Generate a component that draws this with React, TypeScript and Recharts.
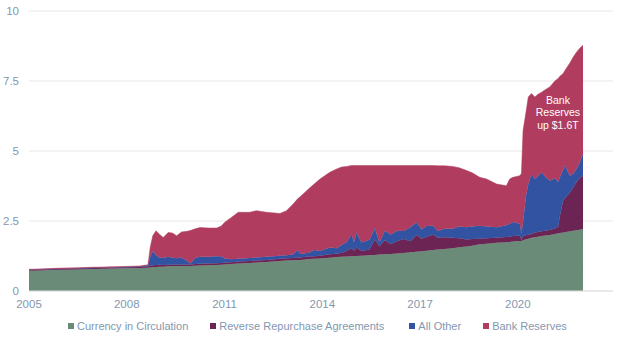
import React from "react";
import { AreaChart, Area, XAxis, YAxis, CartesianGrid, Legend, ReferenceDot } from "recharts";

// Decimal years of each observation
const years = [
  2005.0, 2005.5, 2006.0, 2006.5, 2007.0, 2007.5, 2008.0, 2008.4, 2008.65, 2008.72,
  2008.8, 2008.9, 2009.0, 2009.12, 2009.27, 2009.4, 2009.53, 2009.68, 2009.85, 2009.95,
  2010.1, 2010.25, 2010.5, 2010.76, 2010.9, 2011.0, 2011.2, 2011.42, 2011.78, 2011.98,
  2012.29, 2012.7, 2012.9, 2013.1, 2013.25, 2013.32, 2013.42, 2013.6, 2013.75, 2013.93,
  2014.23, 2014.44, 2014.6, 2014.75, 2014.9, 2014.97, 2015.05, 2015.2, 2015.45, 2015.61,
  2015.75, 2015.92, 2016.1, 2016.3, 2016.5, 2016.7, 2016.89, 2017.05, 2017.2, 2017.4,
  2017.55, 2017.75, 2018.0, 2018.2, 2018.43, 2018.6, 2018.83, 2019.04, 2019.35, 2019.65,
  2019.75, 2019.85, 2020.06, 2020.11, 2020.16, 2020.25, 2020.32, 2020.42, 2020.52, 2020.62,
  2020.73, 2020.85, 2020.98, 2021.15, 2021.23, 2021.29, 2021.39, 2021.44, 2021.6, 2021.7,
  2021.8, 2021.9, 2022.0,
];

// $ trillions
const currency = [
  0.72, 0.74, 0.76, 0.77, 0.79, 0.80, 0.81, 0.82, 0.83, 0.84,
  0.85, 0.86, 0.87, 0.87, 0.88, 0.88, 0.88, 0.89, 0.89, 0.89,
  0.90, 0.91, 0.92, 0.93, 0.94, 0.95, 0.96, 0.98, 1.00, 1.02,
  1.04, 1.07, 1.09, 1.10, 1.11, 1.11, 1.12, 1.14, 1.15, 1.16,
  1.19, 1.21, 1.22, 1.23, 1.24, 1.25, 1.25, 1.26, 1.28, 1.29,
  1.30, 1.31, 1.32, 1.34, 1.36, 1.38, 1.40, 1.42, 1.44, 1.46,
  1.48, 1.50, 1.53, 1.56, 1.59, 1.62, 1.67, 1.69, 1.72, 1.74,
  1.75, 1.77, 1.79, 1.79, 1.81, 1.85, 1.87, 1.90, 1.92, 1.94,
  1.96, 1.98, 2.00, 2.04, 2.06, 2.07, 2.09, 2.10, 2.13, 2.15,
  2.17, 2.19, 2.21,
];

const reverseRepo = [
  0.025, 0.026, 0.028, 0.03, 0.03, 0.032, 0.035, 0.04, 0.045, 0.07,
  0.07, 0.07, 0.07, 0.06, 0.06, 0.06, 0.06, 0.06, 0.06, 0.06,
  0.06, 0.06, 0.06, 0.06, 0.06, 0.06, 0.07, 0.07, 0.07, 0.07,
  0.07, 0.08, 0.08, 0.08, 0.09, 0.09, 0.09, 0.09, 0.09, 0.10,
  0.12, 0.12, 0.15, 0.20, 0.30, 0.18, 0.30, 0.17, 0.20, 0.55,
  0.30, 0.50, 0.35, 0.45, 0.50, 0.40, 0.60, 0.45, 0.50, 0.55,
  0.42, 0.42, 0.37, 0.32, 0.25, 0.24, 0.20, 0.19, 0.18, 0.19,
  0.19, 0.19, 0.18, 0.02, 0.15, 0.14, 0.14, 0.14, 0.17, 0.17,
  0.17, 0.17, 0.18, 0.20, 0.20, 0.60, 1.14, 1.20, 1.39, 1.55,
  1.71, 1.85, 1.91,
];

const allOther = [
  0.01, 0.01, 0.01, 0.01, 0.01, 0.01, 0.012, 0.015, 0.03, 0.30,
  0.51, 0.35, 0.26, 0.25, 0.28, 0.25, 0.23, 0.25, 0.12, 0.03,
  0.22, 0.25, 0.24, 0.25, 0.24, 0.15, 0.10, 0.10, 0.11, 0.11,
  0.11, 0.11, 0.11, 0.12, 0.27, 0.12, 0.13, 0.14, 0.22, 0.17,
  0.24, 0.20, 0.28, 0.32, 0.49, 0.30, 0.54, 0.30, 0.35, 0.41,
  0.13, 0.34, 0.35, 0.36, 0.28, 0.50, 0.45, 0.33, 0.38, 0.32,
  0.24, 0.30, 0.32, 0.42, 0.44, 0.44, 0.46, 0.42, 0.38, 0.42,
  0.46, 0.50, 0.43, 0.22, 0.50, 1.40, 1.80, 2.14, 1.91, 2.00,
  2.11, 1.92, 1.76, 1.80, 1.62, 1.39, 1.10, 1.18, 0.60, 0.50,
  0.48, 0.55, 0.78,
];

const bankReserves = [
  0.02, 0.02, 0.02, 0.02, 0.02, 0.02, 0.02, 0.02, 0.03, 0.35,
  0.55, 0.87, 0.83, 0.73, 0.87, 0.88, 0.80, 0.91, 1.06, 1.18,
  1.04, 1.05, 1.03, 1.01, 1.08, 1.29, 1.49, 1.66, 1.63, 1.67,
  1.59, 1.51, 1.59, 1.80, 1.83, 2.05, 2.13, 2.30, 2.36, 2.57,
  2.69, 2.83, 2.78, 2.70, 2.45, 2.75, 2.39, 2.75, 2.65, 2.23,
  2.75, 2.33, 2.46, 2.33, 2.34, 2.20, 2.03, 2.28, 2.16, 2.15,
  2.33, 2.25, 2.23, 2.10, 2.02, 1.92, 1.73, 1.70, 1.54, 1.41,
  1.60, 1.60, 1.72, 2.17, 3.27, 3.00, 3.12, 2.87, 2.93, 2.92,
  2.86, 3.13, 3.35, 3.48, 3.70, 3.61, 3.44, 3.39, 4.03, 4.16,
  4.17, 4.08, 3.88,
];

const xTicks = [2005, 2008, 2011, 2014, 2017, 2020];
const yTicks = [0, 2.5, 5, 7.5, 10];

const seriesNames = ["Currency in Circulation", "Reverse Repurchase Agreements", "All Other", "Bank Reserves"];
const seriesKeys = ["currency", "reverseRepo", "allOther", "bankReserves"];
const seriesColors = ["#6a8b78", "#6c2454", "#3253a2", "#b03d5f"];

const annotationLines = ["Bank", "Reserves", "up $1.6T"];
const annotationX = 2021.23;
const annotationY = 6.38;

const data = years.map((t, i) => ({
  t,
  currency: currency[i],
  reverseRepo: reverseRepo[i],
  allOther: allOther[i],
  bankReserves: bankReserves[i],
}));

const FONT = "'Liberation Sans', Arial, Helvetica, sans-serif";
const TEXT = "#8497b0";

const LegendContent = () => (
  <div style={{ display: "flex", justifyContent: "flex-start", paddingLeft: 68, fontFamily: FONT, fontSize: 11, color: TEXT }}>
    {seriesNames.map((n, i) => (
      <div key={n} style={{ display: "flex", alignItems: "center", marginRight: i === 1 ? 25 : 22 }}>
        <span style={{ display: "inline-block", width: 6, height: 6, background: seriesColors[i], marginRight: 3 }} />
        <span>{n}</span>
      </div>
    ))}
  </div>
);

const Annotation = (props: any) => {
  const { cx, cy } = props;
  return (
    <text x={cx} y={cy} textAnchor="middle" fill="#ffffff" fontFamily={FONT} fontSize={10.5}>
      {annotationLines.map((l, i) => (
        <tspan key={i} x={cx} y={cy + (i - 1) * 12.5} dy="0.35em">{l}</tspan>
      ))}
    </text>
  );
};

export default function App() {
  return (
    <div style={{ position: "absolute", left: 0, top: 0, width: 624, height: 342, background: "#fff" }}>
      <AreaChart width={624} height={342} data={data} margin={{ top: 11, right: 11, bottom: 17, left: 0 }}>
        <CartesianGrid vertical={false} stroke="#e6e6e6" />
        <XAxis
          dataKey="t"
          type="number"
          domain={[2005, 2022.92]}
          ticks={xTicks}
          allowDataOverflow
          tickLine={false}
          axisLine={{ stroke: "#e0e0e0" }}
          tickSize={0}
          tickMargin={9}
          height={22}
          tick={{ fill: TEXT, fontSize: 11.5, fontFamily: FONT }}
        />
        <YAxis
          type="number"
          domain={[0, 10]}
          ticks={yTicks}
          width={29}
          tickLine={false}
          axisLine={false}
          tickSize={0}
          tickMargin={10}
          tick={{ fill: TEXT, fontSize: 11.5, fontFamily: FONT }}
        />
        {seriesKeys.map((k, i) => (
          <Area
            key={k}
            type="linear"
            dataKey={k}
            name={seriesNames[i]}
            stackId="a"
            fill={seriesColors[i]}
            fillOpacity={1}
            stroke={seriesColors[i]}
            strokeWidth={0.5}
            isAnimationActive={false}
            dot={false}
            activeDot={false}
          />
        ))}
        <ReferenceDot x={annotationX} y={annotationY} r={0} shape={Annotation} ifOverflow="visible" />
        <Legend
          verticalAlign="bottom"
          content={LegendContent}
          wrapperStyle={{ left: 0, width: 624, bottom: 10 }}
        />
      </AreaChart>
    </div>
  );
}
